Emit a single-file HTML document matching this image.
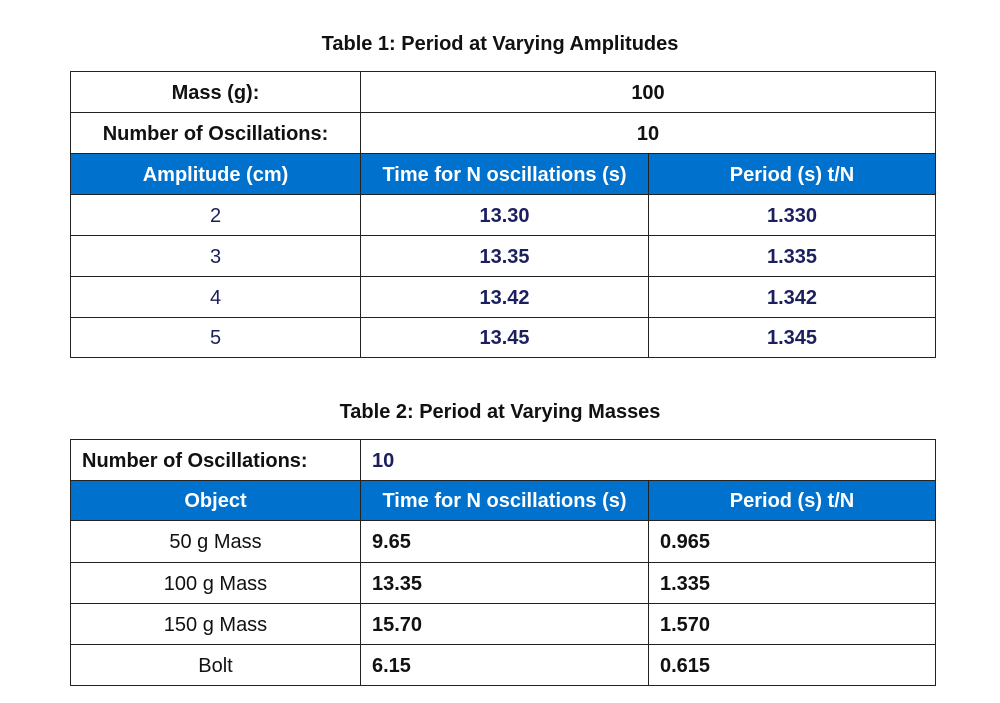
<!DOCTYPE html>
<html><head><meta charset="utf-8"><style>
body{margin:0;width:1000px;height:703px;background:#fff;font-family:"Liberation Sans",Arial,sans-serif;position:relative;overflow:hidden}
.t{position:absolute;left:0;width:1000px;text-align:center;font-weight:bold;font-size:20px;color:#111}
.c{position:absolute;box-sizing:border-box;border:1px solid #222;display:flex;align-items:center;justify-content:center;font-size:20px;color:#111;padding-top:2px}
.b{font-weight:bold}
.h{background:#0071cc;color:#fff;font-weight:bold}
.n{color:#1b1f5e}
.l{justify-content:flex-start;padding-left:11px}
</style></head><body>
<div class="t" style="top:33px">Table 1: Period at Varying Amplitudes</div>
<div class="c b" style="left:70px;top:71px;width:291px;height:42px">Mass (g):</div>
<div class="c b" style="left:360px;top:71px;width:576px;height:42px">100</div>
<div class="c b" style="left:70px;top:112px;width:291px;height:42px">Number of Oscillations:</div>
<div class="c b" style="left:360px;top:112px;width:576px;height:42px">10</div>
<div class="c h" style="left:70px;top:153px;width:291px;height:42px">Amplitude (cm)</div>
<div class="c h" style="left:360px;top:153px;width:289px;height:42px">Time for N oscillations (s)</div>
<div class="c h" style="left:648px;top:153px;width:288px;height:42px">Period (s) t/N</div>

<div class="c n" style="left:70px;top:194px;width:291px;height:42px">2</div>
<div class="c n b" style="left:360px;top:194px;width:289px;height:42px">13.30</div>
<div class="c n b" style="left:648px;top:194px;width:288px;height:42px">1.330</div>
<div class="c n" style="left:70px;top:235px;width:291px;height:42px">3</div>
<div class="c n b" style="left:360px;top:235px;width:289px;height:42px">13.35</div>
<div class="c n b" style="left:648px;top:235px;width:288px;height:42px">1.335</div>
<div class="c n" style="left:70px;top:276px;width:291px;height:42px">4</div>
<div class="c n b" style="left:360px;top:276px;width:289px;height:42px">13.42</div>
<div class="c n b" style="left:648px;top:276px;width:288px;height:42px">1.342</div>
<div class="c n" style="left:70px;top:317px;width:291px;height:41px">5</div>
<div class="c n b" style="left:360px;top:317px;width:289px;height:41px">13.45</div>
<div class="c n b" style="left:648px;top:317px;width:288px;height:41px">1.345</div>

<div class="t" style="top:401px">Table 2: Period at Varying Masses</div>
<div class="c b l" style="left:70px;top:439px;width:291px;height:42px">Number of Oscillations:</div>
<div class="c b l n" style="left:360px;top:439px;width:576px;height:42px">10</div>
<div class="c h" style="left:70px;top:480px;width:291px;height:41px">Object</div>
<div class="c h" style="left:360px;top:480px;width:289px;height:41px">Time for N oscillations (s)</div>
<div class="c h" style="left:648px;top:480px;width:288px;height:41px">Period (s) t/N</div>

<div class="c" style="left:70px;top:520px;width:291px;height:43px">50 g Mass</div>
<div class="c b l" style="left:360px;top:520px;width:289px;height:43px">9.65</div>
<div class="c b l" style="left:648px;top:520px;width:288px;height:43px">0.965</div>
<div class="c" style="left:70px;top:562px;width:291px;height:42px">100 g Mass</div>
<div class="c b l" style="left:360px;top:562px;width:289px;height:42px">13.35</div>
<div class="c b l" style="left:648px;top:562px;width:288px;height:42px">1.335</div>
<div class="c" style="left:70px;top:603px;width:291px;height:42px">150 g Mass</div>
<div class="c b l" style="left:360px;top:603px;width:289px;height:42px">15.70</div>
<div class="c b l" style="left:648px;top:603px;width:288px;height:42px">1.570</div>
<div class="c" style="left:70px;top:644px;width:291px;height:42px">Bolt</div>
<div class="c b l" style="left:360px;top:644px;width:289px;height:42px">6.15</div>
<div class="c b l" style="left:648px;top:644px;width:288px;height:42px">0.615</div>
</body></html>
